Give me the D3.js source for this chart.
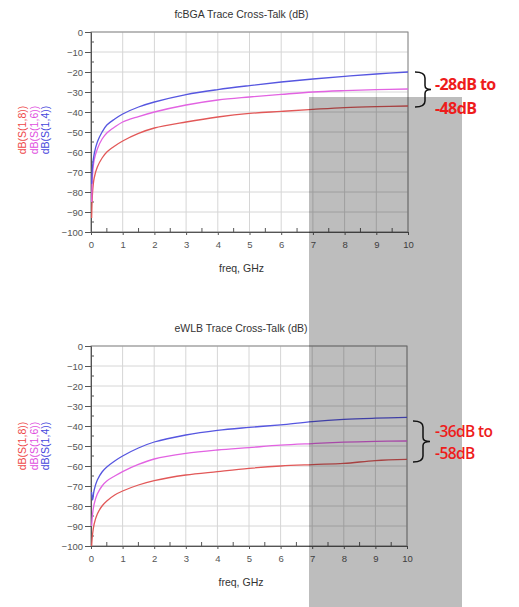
<!DOCTYPE html>
<html>
<head>
<meta charset="utf-8">
<script src="https://cdn.jsdelivr.net/npm/d3@7"></script>
<style>
  body { margin: 0; background: #fff; }
  svg { display: block; font-family: "Liberation Sans", Arial, sans-serif; }
  .tick-label { font-size: 9.5px; fill: #555; }
  .title { font-size: 10.5px; fill: #333; }
  .note { font-family: "Open Sans", sans-serif; fill: #ee1c1c; }
</style>
</head>
<body>
<svg id="chart" width="519" height="607"></svg>
<script>
// frequency points (GHz), shared by all traces
const freq = [0.02, 0.05, 0.1, 0.2, 0.35, 0.5, 0.75, 1, 1.5, 2, 3, 4, 5, 6, 7, 8, 9, 10];

// fcBGA traces (dB)
const fcbgaS14 = [-76, -67, -61, -55, -50, -46.5, -43.5, -41, -37.5, -35, -31.3, -28.8, -26.8, -25, -23.5, -22.2, -21, -20];
const fcbgaS16 = [-85, -71, -64, -58.5, -53.5, -50.5, -47.5, -45, -42.3, -40, -36.5, -34, -32.5, -31.2, -30, -29.3, -28.8, -28.5];
const fcbgaS18 = [-93, -80, -73, -67.5, -63, -60, -57, -54.5, -50.7, -48, -45, -42.5, -40.7, -39.7, -38.7, -37.8, -37.3, -37];

// eWLB traces (dB)
const ewlbS14 = [-73, -77, -72, -67, -63, -60.5, -57.5, -55, -51, -48, -44.5, -42.2, -40.7, -39.4, -37.8, -36.7, -36.1, -35.7];
const ewlbS16 = [-90, -84, -79, -74, -70, -67.5, -65, -62.8, -59.2, -56.5, -53.7, -52, -50.8, -49.6, -48.8, -48.1, -47.7, -47.5];
const ewlbS18 = [-100, -94, -89, -84, -80, -77.5, -74.5, -72.5, -69.5, -67.3, -64.5, -62.8, -61.2, -60, -59.3, -58.7, -57.3, -56.7];

const traceNames = ['dB(S(1,8))', 'dB(S(1,6))', 'dB(S(1,4))'];
const traceColors = ['#e25858', '#e263e2', '#5656e0'];
const labelColors = ['#ee4848', '#e050e0', '#4646dc'];

const xTicks = d3.range(0, 11, 1);
const yTicks = d3.range(0, -101, -10);

const chartTitles = ['fcBGA Trace Cross-Talk (dB)', 'eWLB Trace Cross-Talk (dB)'];
const noteLines = [['-28dB to', '-48dB'], ['-36dB to', '-58dB']];

const svg = d3.select('#chart');

function drawChart(cfg) {
  const g = svg.append('g').attr('transform', `translate(${cfg.left},${cfg.top})`);
  const x = d3.scaleLinear().domain([0, 10]).range([0, cfg.width]);
  const y = d3.scaleLinear().domain([-100, 0]).range([cfg.height, 0]);

  // grid
  g.append('g').selectAll('line').data(xTicks).join('line')
    .attr('x1', d => x(d)).attr('x2', d => x(d))
    .attr('y1', 0).attr('y2', cfg.height)
    .attr('stroke', '#d6d6d6');
  g.append('g').selectAll('line').data(yTicks).join('line')
    .attr('x1', 0).attr('x2', cfg.width)
    .attr('y1', d => y(d)).attr('y2', d => y(d))
    .attr('stroke', '#d6d6d6');

  // frame
  g.append('rect')
    .attr('width', cfg.width).attr('height', cfg.height)
    .attr('fill', 'none').attr('stroke', '#8a8a8a');

  // axes
  const yAxis = g.append('g')
    .call(d3.axisLeft(y).tickValues(yTicks).tickSize(6).tickPadding(2));
  const xAxis = g.append('g').attr('transform', `translate(0,${cfg.height})`)
    .call(d3.axisBottom(x).tickValues(xTicks).tickSize(3).tickPadding(6));
  [xAxis, yAxis].forEach(a => {
    a.select('.domain').attr('stroke', '#555');
    a.selectAll('.tick line').attr('stroke', '#555');
    a.selectAll('.tick text').attr('class', 'tick-label').attr('font-family', null).attr('font-size', null);
  });

  // minor ticks, inward
  g.append('g').selectAll('line').data(d3.range(0.5, 10, 1)).join('line')
    .attr('x1', d => x(d)).attr('x2', d => x(d))
    .attr('y1', cfg.height).attr('y2', cfg.height - 4)
    .attr('stroke', '#555');
  g.append('g').selectAll('line').data(d3.range(-95, 0, 10)).join('line')
    .attr('x1', 0).attr('x2', 3)
    .attr('y1', d => y(d)).attr('y2', d => y(d))
    .attr('stroke', '#555');

  // traces
  const line = d3.line().x(d => x(d[0])).y(d => y(d[1])).curve(d3.curveCatmullRom.alpha(0.5));
  cfg.series.forEach((vals, i) => {
    g.append('path')
      .datum(freq.map((f, k) => [f, vals[k]]))
      .attr('fill', 'none')
      .attr('stroke', traceColors[i])
      .attr('stroke-width', 1.3)
      .attr('d', line);
  });

  // title and x label
  g.append('text').attr('class', 'title')
    .attr('x', cfg.width / 2 - 8).attr('y', -14)
    .attr('text-anchor', 'middle').text(cfg.title);
  g.append('text').attr('class', 'title')
    .attr('x', cfg.width / 2 - 8).attr('y', cfg.height + 40)
    .attr('text-anchor', 'middle').text('freq, GHz');

  // stacked rotated y labels
  traceNames.forEach((name, i) => {
    svg.append('text')
      .attr('transform', `translate(${26 + i * 11.7},${cfg.top + cfg.labelMid}) rotate(-90)`)
      .attr('text-anchor', 'middle')
      .attr('font-size', 10.5)
      .attr('fill', labelColors[i])
      .text(name);
  });
}

drawChart({ left: 91, top: 32, width: 317, height: 200, title: chartTitles[0],
  series: [fcbgaS18, fcbgaS16, fcbgaS14], labelMid: 98 });
drawChart({ left: 91, top: 346, width: 316, height: 200, title: chartTitles[1],
  series: [ewlbS18, ewlbS16, ewlbS14], labelMid: 100 });

// grey highlight band over 7-10 GHz
svg.append('rect')
  .attr('x', 309).attr('y', 97).attr('width', 153).attr('height', 510)
  .attr('fill', '#000').attr('opacity', 0.26);

// braces and range notes
function brace(x0, y0, y1, tip) {
  const m = (y0 + y1) / 2, xs = x0 + 10;
  return `M${x0},${y0} Q${xs},${y0} ${xs},${y0 + 6} L${xs},${m - 4} Q${xs},${m} ${x0 + tip},${m}` +
    ` Q${xs},${m} ${xs},${m + 4} L${xs},${y1 - 6} Q${xs},${y1} ${x0},${y1}`;
}
svg.append('path').attr('d', brace(415, 72, 107, 16))
  .attr('fill', 'none').attr('stroke', '#111').attr('stroke-width', 1.5);
svg.append('path').attr('d', brace(413, 421, 462, 17))
  .attr('fill', 'none').attr('stroke', '#111').attr('stroke-width', 1.5);

const notePos = [{ x: 435, y: [90, 114], size: 16, weight: 700 },
                 { x: 435, y: [437, 459], size: 15.5, weight: 600 }];
noteLines.forEach((lines, i) => {
  lines.forEach((t, j) => {
    svg.append('text').attr('class', 'note')
      .attr('x', notePos[i].x).attr('y', notePos[i].y[j])
      .attr('font-size', notePos[i].size)
      .attr('font-weight', notePos[i].weight)
      .attr('letter-spacing', -0.6)
      .text(t);
  });
});
</script>
</body>
</html>
